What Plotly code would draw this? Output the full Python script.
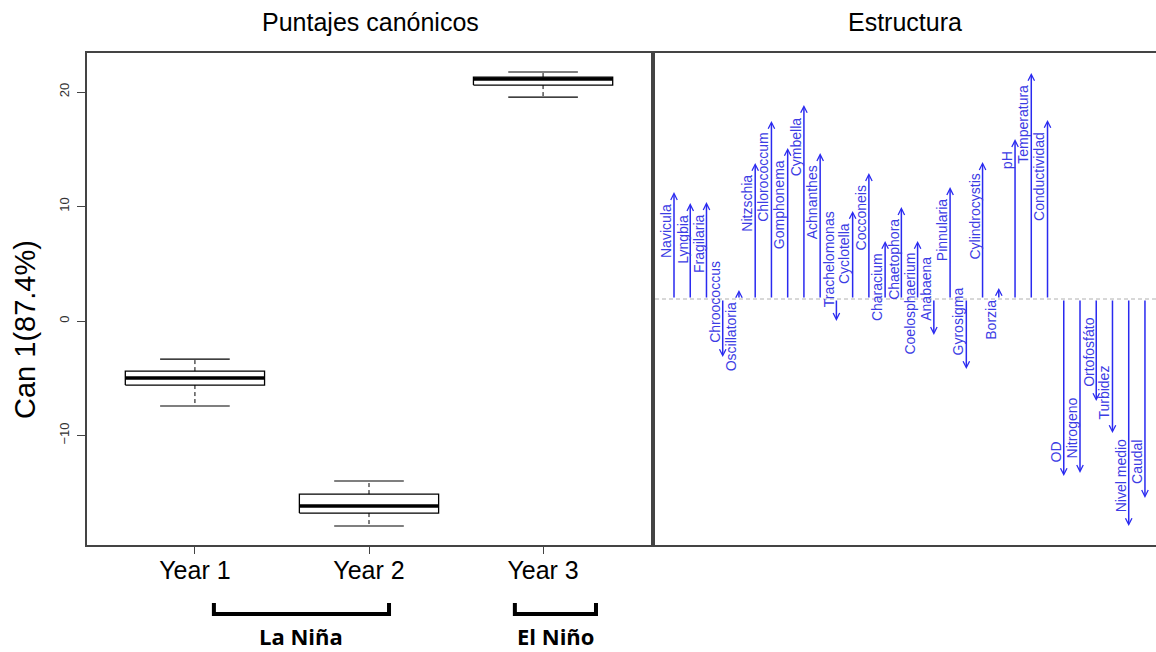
import plotly.graph_objects as go

# ---------------- data ----------------
years = ["Year 1", "Year 2", "Year 3"]
lower_whisker = [-7.42, -17.90, 19.56]
q1 = [-5.59, -16.77, 20.61]
median = [-4.98, -16.16, 21.14]
q3 = [-4.37, -15.11, 21.31]
upper_whisker = [-3.32, -13.97, 21.75]

variables = ["Navicula", "Lyngbia", "Fragilaria", "Chroococcus", "Oscillatoria",
             "Nitzschia", "Chlorococcum", "Gomphonema", "Cymbella", "Achnanthes",
             "Trachelomonas", "Cyclotella", "Cocconeis", "Characium", "Chaetophora",
             "Coelosphaerium", "Anabaena", "Pinnularia", "Gyrosigma", "Cylindrocystis",
             "Borzia", "pH", "Temperatura", "Conductividad", "OD",
             "Nitrogeno", "Ortofosfáto", "Turbidez", "Nivel medio", "Caudal"]
structure = [0.435, 0.390, 0.394, -0.236, 0.037,
             0.553, 0.724, 0.614, 0.789, 0.593,
             -0.089, 0.358, 0.512, 0.236, 0.374,
             0.236, -0.146, 0.455, -0.285, 0.557,
             0.045, 0.650, 0.919, 0.728, -0.720,
             -0.707, -0.415, -0.545, -0.923, -0.809]

y_ticks = [-10, 0, 10, 20]

# ---------------- figure ----------------
W, H = 1156, 652
FONT = "Liberation Sans, Arial, Helvetica, sans-serif"
AX = "#444444"
BLUE_LINE = "#2a2af0"
BLUE_TEXT = "#3c3ce4"

fig = go.Figure()

pos = list(range(1, len(years) + 1))
hw, cw = 0.4, 0.2

# box bodies
for i, p in enumerate(pos):
    fig.add_trace(go.Scatter(
        x=[p - hw, p + hw, p + hw, p - hw, p - hw],
        y=[q1[i], q1[i], q3[i], q3[i], q1[i]],
        mode="lines", fill="toself", fillcolor="white",
        line=dict(color="black", width=1.3), hoverinfo="skip",
        xaxis="x", yaxis="y", showlegend=False))
# whiskers (dashed)
wx, wy = [], []
for i, p in enumerate(pos):
    wx += [p, p, None, p, p, None]
    wy += [q3[i], upper_whisker[i], None, q1[i], lower_whisker[i], None]
fig.add_trace(go.Scatter(x=wx, y=wy, mode="lines",
                         line=dict(color="black", width=1, dash="4px,3px"),
                         hoverinfo="skip", showlegend=False))
# caps
cx, cy = [], []
for i, p in enumerate(pos):
    cx += [p - cw, p + cw, None, p - cw, p + cw, None]
    cy += [upper_whisker[i], upper_whisker[i], None, lower_whisker[i], lower_whisker[i], None]
fig.add_trace(go.Scatter(x=cx, y=cy, mode="lines",
                         line=dict(color="black", width=1.2),
                         hoverinfo="skip", showlegend=False))
# medians
mx, my = [], []
for i, p in enumerate(pos):
    mx += [p - hw, p + hw, None]
    my += [median[i], median[i], None]
fig.add_trace(go.Scatter(x=mx, y=my, mode="lines",
                         line=dict(color="black", width=3.5),
                         hoverinfo="skip", showlegend=False))

# ---------------- right panel ----------------
vpos = list(range(1, len(variables) + 1))
x2_range = [-0.17, 30.68]
fig.add_trace(go.Scatter(x=x2_range, y=[0, 0], mode="lines",
                         line=dict(color="#b0b0b0", width=1, dash="4px,3px"),
                         xaxis="x2", yaxis="y2", hoverinfo="skip", showlegend=False))

annotations = []
for p, name, v in zip(vpos, variables, structure):
    annotations.append(dict(
        x=p, y=v, ax=p, ay=0, xref="x2", yref="y2", axref="x2", ayref="y2",
        text="", showarrow=True, arrowhead=5, arrowsize=0.85, arrowwidth=1.5,
        arrowcolor=BLUE_LINE, standoff=0, startstandoff=0))
    up = v >= 0
    annotations.append(dict(
        x=p, y=v, xref="x2", yref="y2", text=name, showarrow=False,
        textangle=-90, xanchor="center",
        yanchor="top" if up else "bottom",
        xshift=-8, yshift=-10 if up else 12,
        font=dict(family=FONT, size=14, color=BLUE_TEXT)))

# titles
annotations.append(dict(x=370 / W, y=1 - 22 / H, xref="paper", yref="paper",
                        text="Puntajes canónicos", showarrow=False,
                        xanchor="center", yanchor="middle",
                        font=dict(family=FONT, size=25, color="black")))
annotations.append(dict(x=905 / W, y=1 - 22 / H, xref="paper", yref="paper",
                        text="Estructura", showarrow=False,
                        xanchor="center", yanchor="middle",
                        font=dict(family=FONT, size=25, color="black")))
annotations.append(dict(x=25 / W, y=1 - 330 / H, xref="paper", yref="paper",
                        text="Can 1(87.4%)", showarrow=False, textangle=-90,
                        xanchor="center", yanchor="middle",
                        font=dict(family=FONT, size=29, color="black")))
# period labels
annotations.append(dict(x=1.612, y=1 - 636 / H, xref="x", yref="paper",
                        text="<b>La Niña</b>", showarrow=False,
                        xanchor="center", yanchor="middle",
                        font=dict(family="Open Sans, sans-serif", size=22, color="black")))
annotations.append(dict(x=3.071, y=1 - 636 / H, xref="x", yref="paper",
                        text="<b>El Niño</b>", showarrow=False,
                        xanchor="center", yanchor="middle",
                        font=dict(family="Open Sans, sans-serif", size=22, color="black")))

# brackets
shapes = []
for (a, b) in [(1.109, 2.115), (2.838, 3.304)]:
    shapes.append(dict(type="path", xref="x", yref="paper",
                       path=f"M {a},{1 - 603 / H} L {a},{1 - 614 / H} L {b},{1 - 614 / H} L {b},{1 - 603 / H}",
                       line=dict(color="black", width=4)))

ydom = [1 - 545 / H, 1 - 53 / H]
fig.update_layout(
    width=W, height=H,
    margin=dict(l=0, r=0, t=0, b=0),
    paper_bgcolor="white", plot_bgcolor="white",
    showlegend=False,
    annotations=annotations,
    shapes=shapes,
    xaxis=dict(domain=[87 / W, 651 / W], range=[0.38, 3.62],
               tickvals=pos, ticktext=years, ticks="outside", ticklen=7,
               tickcolor=AX, tickwidth=1, ticklabelstandoff=-5,
               tickfont=dict(family=FONT, size=25, color="black"),
               showline=True, mirror=True, linecolor=AX, linewidth=1.5,
               showgrid=False, zeroline=False),
    yaxis=dict(domain=ydom, range=[-19.56, 23.41], tickvals=y_ticks,
               ticks="outside", ticklen=8, tickcolor=AX, tickwidth=1,
               tickangle=-90, ticklabelstandoff=3,
               tickfont=dict(family=FONT, size=13, color="#333333"),
               showline=True, mirror=True, linecolor=AX, linewidth=1.5,
               showgrid=False, zeroline=False),
    xaxis2=dict(domain=[655 / W, 1.0], range=x2_range, anchor="y2",
                showticklabels=False, ticks="", showline=True, mirror=True,
                linecolor=AX, linewidth=1.5, showgrid=False, zeroline=False),
    yaxis2=dict(domain=ydom, range=[-1, 1], anchor="x2",
                showticklabels=False, ticks="", showline=True, mirror=False,
                linecolor=AX, linewidth=1.5, showgrid=False, zeroline=False),
)

fig.write_html("out.html")
